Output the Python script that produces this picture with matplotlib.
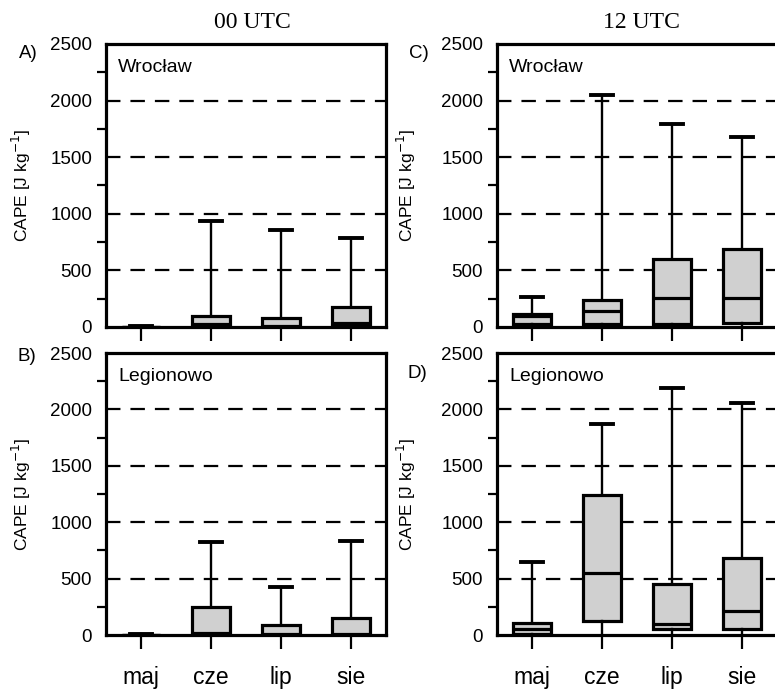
import matplotlib
matplotlib.use("Agg")
from matplotlib import pyplot as plt
from matplotlib.ticker import MultipleLocator

months = ["maj", "cze", "lip", "sie"]

# Wroclaw, 00 UTC
wro00_q1 = [0, 3, 0, 5]
wro00_med = [0, 30, 8, 33]
wro00_q3 = [3, 100, 77, 173]
wro00_hi = [12, 937, 861, 787]

# Wroclaw, 12 UTC
wro12_q1 = [25, 26, 30, 38]
wro12_med = [95, 144, 255, 253]
wro12_q3 = [115, 235, 605, 687]
wro12_hi = [265, 2050, 1790, 1680]

# Legionowo, 00 UTC
leg00_q1 = [0, 3, 0, 2]
leg00_med = [0, 15, 5, 10]
leg00_q3 = [3, 246, 89, 148]
leg00_hi = [8, 824, 424, 830]

# Legionowo, 12 UTC
leg12_q1 = [12, 120, 50, 50]
leg12_med = [55, 554, 95, 210]
leg12_q3 = [105, 1244, 450, 679]
leg12_hi = [643, 1873, 2193, 2059]

W, H = 775, 691
fig = plt.figure(figsize=(W / 100, H / 100), dpi=100)
plt.rcParams['font.family'] = ['Liberation Sans', 'DejaVu Sans']


def make_stats(q1, med, q3, hi):
    return [dict(whislo=0, q1=a, med=b, q3=c, whishi=d, fliers=[])
            for a, b, c, d in zip(q1, med, q3, hi)]


def box_panel(rect, q1, med, q3, hi, station, bottom):
    ax = fig.add_axes(rect)
    for y in [500, 1000, 1500, 2000]:
        ax.axhline(y, color="black", lw=1.6, dashes=(6.5, 4.5), zorder=1)
    parts = ax.bxp(make_stats(q1, med, q3, hi), positions=[1, 2, 3, 4], widths=0.53,
                   capwidths=0.31, patch_artist=True, showfliers=False, manage_ticks=False,
                   boxprops=dict(facecolor="#d0d0d0", edgecolor="black", linewidth=2.3),
                   whiskerprops=dict(color="black", linewidth=1.7),
                   capprops=dict(color="black", linewidth=2.8),
                   medianprops=dict(color="black", linewidth=2.3))
    # no cap on the lower whisker (it ends on the axis)
    for cap in parts["caps"][0::2]:
        cap.set_visible(False)
    ax.set_xlim(0.5, 4.5)
    ax.set_ylim(0, 2500)
    ax.set_xticks([1, 2, 3, 4])
    if bottom:
        ax.set_xticklabels(months, fontsize=16.5)
    else:
        ax.set_xticklabels([])
    ax.set_yticks(range(0, 2501, 500))
    ax.yaxis.set_minor_locator(MultipleLocator(250))
    ax.tick_params(axis="x", direction="out", length=10, width=1.6, pad=12)
    ax.tick_params(axis="y", which="major", length=0, pad=10, labelsize=13.5)
    ax.tick_params(axis="y", which="minor", direction="out", length=6.5, width=1.6)
    for s in ax.spines.values():
        s.set_linewidth(2.3)
    ax.text(12 / 280, 0.9, station, transform=ax.transAxes, fontsize=14,
            va="baseline", ha="left")
    return ax


def frac(x, y):
    return x / W, 1 - y / H


axA = box_panel([106 / W, (H - 327) / H, 280 / W, 283 / H],
                wro00_q1, wro00_med, wro00_q3, wro00_hi, "Wrocław", False)
axB = box_panel([106 / W, (H - 635) / H, 280 / W, 282 / H],
                leg00_q1, leg00_med, leg00_q3, leg00_hi, "Legionowo", True)
axC = box_panel([497 / W, (H - 327) / H, 280 / W, 283 / H],
                wro12_q1, wro12_med, wro12_q3, wro12_hi, "Wrocław", False)
axD = box_panel([497 / W, (H - 635) / H, 280 / W, 282 / H],
                leg12_q1, leg12_med, leg12_q3, leg12_hi, "Legionowo", True)

for ax, lx in [(axA, -0.262), (axB, -0.262), (axC, -0.282), (axD, -0.282)]:
    ax.set_ylabel("CAPE [J kg$^{-1}$]", fontsize=12.5)
    ax.yaxis.set_label_coords(lx, 0.5)

for lab, (x, y) in [("A)", (28, 53)), ("B)", (27, 357)), ("C)", (419, 53)), ("D)", (417, 373))]:
    fig.text(*frac(x, y), lab, fontsize=13.5, ha="center", va="center")

fig.text(*frac(252, 22), "00 UTC", fontsize=17, ha="center", va="center",
         family=["Liberation Serif", "DejaVu Serif"])
fig.text(*frac(641, 22), "12 UTC", fontsize=17, ha="center", va="center",
         family=["Liberation Serif", "DejaVu Serif"])

fig.savefig("out.png", dpi=100)
